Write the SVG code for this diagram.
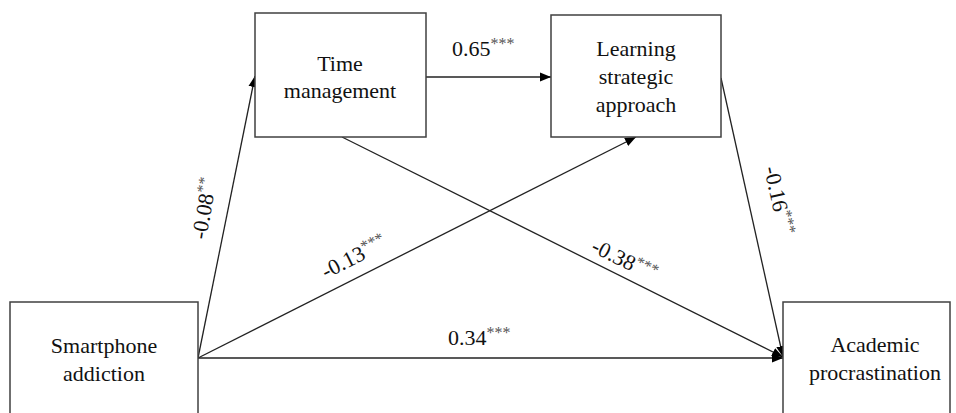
<svg xmlns="http://www.w3.org/2000/svg" width="956" height="413" viewBox="0 0 956 413" font-family="'Liberation Serif', 'DejaVu Serif', serif">
<style>
.box{fill:#fff;stroke:#404040;stroke-width:1.5}
.nt{font-family:'Liberation Serif','DejaVu Serif',serif;font-size:22px;fill:#111;text-anchor:middle}
.lb{font-family:'Liberation Serif','DejaVu Serif',serif;font-size:22px;fill:#111}
.sup{font-size:16px;fill:#555}
.ln{stroke:#222;stroke-width:1.3;fill:none;marker-end:url(#ah)}
</style>
<defs>
<marker id="ah" viewBox="0 0 10 10" refX="10" refY="5" markerWidth="11" markerHeight="11" markerUnits="userSpaceOnUse" orient="auto">
<path d="M0,1 L10,5 L0,9 Z" fill="#000"/>
</marker>
</defs>
<rect width="956" height="413" fill="#fff"/>
<g id="connectors">
<line class="ln" x1="198" y1="358" x2="255" y2="76"/>
<line class="ln" x1="198" y1="358" x2="636" y2="137"/>
<line class="ln" x1="198" y1="358" x2="783" y2="358"/>
<line class="ln" x1="426" y1="77" x2="551" y2="77"/>
<line class="ln" x1="342" y1="137" x2="783" y2="357"/>
<line class="ln" x1="721" y1="78" x2="783" y2="357"/>
</g>
<g id="labels">
<text class="lb" x="452" y="56">0.65<tspan class="sup" dy="-7">***</tspan></text>
<text class="lb" x="448" y="345">0.34<tspan class="sup" dy="-7">***</tspan></text>
<text class="lb" transform="translate(206,240) rotate(-80)">-0.08<tspan class="sup" dy="-7">**</tspan></text>
<text class="lb" transform="translate(326,279) rotate(-26.8)">-0.13<tspan class="sup" dy="-7">***</tspan></text>
<text class="lb" transform="translate(590,251) rotate(26.5)">-0.38<tspan class="sup" dy="-7">***</tspan></text>
<text class="lb" transform="translate(764,168) rotate(77.5)">-0.16<tspan class="sup" dy="-7">***</tspan></text>
</g>
<g id="smartphone">
<rect class="box" x="10" y="302" width="188" height="130"/>
<text class="nt" x="104" y="353">Smartphone</text>
<text class="nt" x="104" y="381">addiction</text>
</g>
<g id="time">
<rect class="box" x="255" y="13" width="171" height="124"/>
<text class="nt" x="340" y="71">Time</text>
<text class="nt" x="340" y="98">management</text>
</g>
<g id="learning">
<rect class="box" x="551" y="15" width="170" height="122"/>
<text class="nt" x="636" y="56">Learning</text>
<text class="nt" x="636" y="84">strategic</text>
<text class="nt" x="636" y="112">approach</text>
</g>
<g id="academic">
<rect class="box" x="783" y="302" width="167" height="130"/>
<text class="nt" x="875" y="352">Academic</text>
<text class="nt" x="875" y="380">procrastination</text>
</g>
</svg>
